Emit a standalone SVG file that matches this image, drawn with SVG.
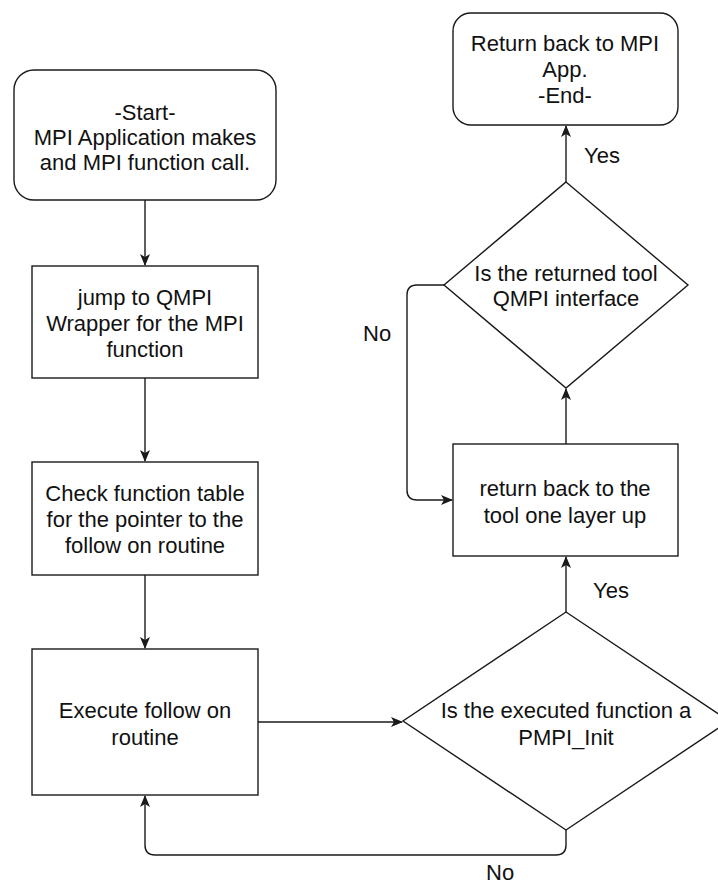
<svg xmlns="http://www.w3.org/2000/svg" width="718" height="885" viewBox="0 0 718 885">
  <style>
    .shape { fill: #ffffff; stroke: #1a1a1a; stroke-width: 1.4; }
    .edge { fill: none; stroke: #1a1a1a; stroke-width: 1.4; }
    text { font-family: "Liberation Sans", Arial, Helvetica, sans-serif; font-size: 22px; fill: #111111; }
    .c { text-anchor: middle; }
  </style>
  <defs>
    <marker id="arrow" viewBox="0 0 12 10" refX="11" refY="5" markerWidth="12" markerHeight="10" markerUnits="userSpaceOnUse" orient="auto">
      <path d="M0,0 L12,5 L0,10 L3,5 Z" fill="#1a1a1a"/>
    </marker>
  </defs>

  <rect width="718" height="885" fill="#ffffff"/>

  <!-- connectors -->
  <g id="connectors">
    <path class="edge" d="M145,200 V265" marker-end="url(#arrow)"/>
    <path class="edge" d="M145,378 V461" marker-end="url(#arrow)"/>
    <path class="edge" d="M145,575 V648" marker-end="url(#arrow)"/>
    <path class="edge" d="M258,722 H402" marker-end="url(#arrow)"/>
    <path class="edge" d="M566,830 V845 Q566,855 556,855 H155 Q145,855 145,845 V796" marker-end="url(#arrow)"/>
    <path class="edge" d="M566,612 V557" marker-end="url(#arrow)"/>
    <path class="edge" d="M566,444 V389" marker-end="url(#arrow)"/>
    <path class="edge" d="M444,285 H417 Q407,285 407,295 V490 Q407,500 417,500 H452" marker-end="url(#arrow)"/>
    <path class="edge" d="M566,182 V126" marker-end="url(#arrow)"/>
    <text x="584" y="163">Yes</text>
    <text x="593" y="598">Yes</text>
    <text x="363" y="341">No</text>
    <text x="486" y="880">No</text>
  </g>

  <!-- start terminal -->
  <g id="start">
    <rect class="shape" x="14" y="70" width="262" height="130" rx="20" ry="20"/>
    <text class="c" x="145" y="120">-Start-</text>
    <text class="c" x="145" y="145">MPI Application makes</text>
    <text class="c" x="145" y="170">and MPI function call.</text>
  </g>

  <g id="jump-wrapper">
    <rect class="shape" x="32" y="266" width="226" height="112"/>
    <text class="c" x="145" y="305">jump to QMPI</text>
    <text class="c" x="145" y="331">Wrapper for the MPI</text>
    <text class="c" x="145" y="357">function</text>
  </g>

  <g id="check-table">
    <rect class="shape" x="32" y="462" width="226" height="113"/>
    <text class="c" x="145" y="501">Check function table</text>
    <text class="c" x="145" y="527">for the pointer to the</text>
    <text class="c" x="145" y="553">follow on routine</text>
  </g>

  <g id="execute-routine">
    <rect class="shape" x="32" y="649" width="226" height="146"/>
    <text class="c" x="145" y="718">Execute follow on</text>
    <text class="c" x="145" y="745">routine</text>
  </g>

  <g id="is-pmpi-init">
    <path class="shape" d="M566,612 L729,721 L566,830 L403,721 Z"/>
    <text class="c" x="566" y="718">Is the executed function a</text>
    <text class="c" x="566" y="745">PMPI_Init</text>
  </g>

  <g id="return-layer-up">
    <rect class="shape" x="453" y="444" width="225" height="112"/>
    <text class="c" x="565" y="496">return back to the</text>
    <text class="c" x="565" y="523">tool one layer up</text>
  </g>

  <g id="is-qmpi-interface">
    <path class="shape" d="M566,182 L688,285 L566,388 L444,285 Z"/>
    <text class="c" x="566" y="281">Is the returned tool</text>
    <text class="c" x="566" y="306">QMPI interface</text>
  </g>

  <!-- end terminal -->
  <g id="end">
    <rect class="shape" x="453" y="13" width="225" height="112" rx="18" ry="18"/>
    <text class="c" x="565" y="51">Return back to MPI</text>
    <text class="c" x="565" y="77">App.</text>
    <text class="c" x="565" y="103">-End-</text>
  </g>
</svg>
